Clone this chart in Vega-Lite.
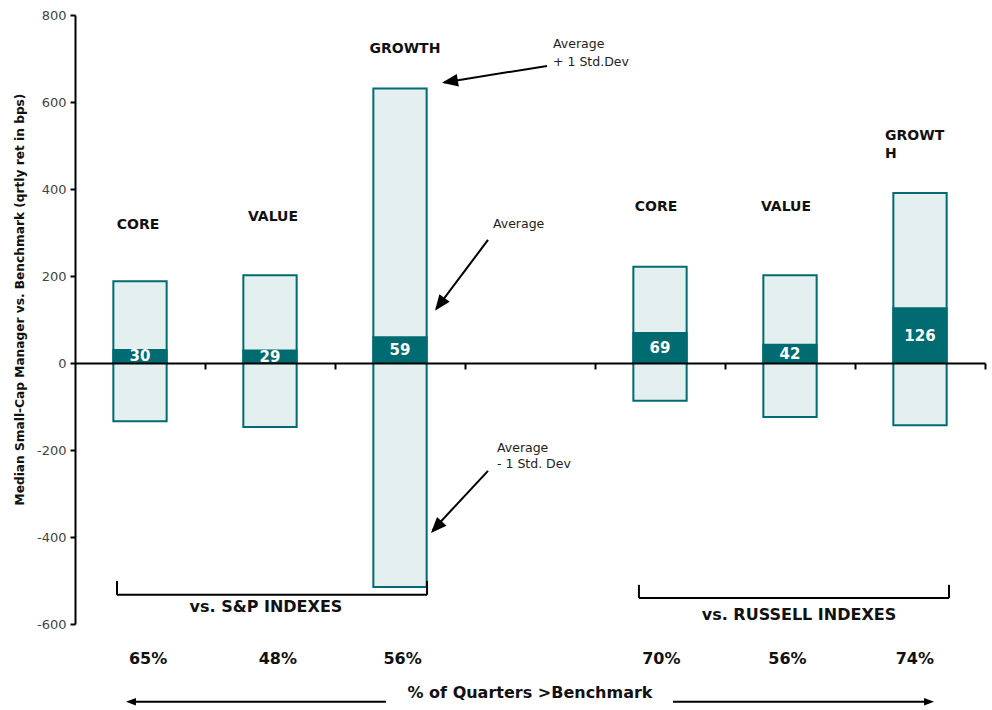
{
  "$schema": "https://vega.github.io/schema/vega-lite/v6.json",
  "width": 910,
  "height": 609,
  "autosize": {"type": "none"},
  "padding": {"left": 75, "top": 15, "right": 7, "bottom": 86},
  "background": "white",
  "config": {"view": {"stroke": null}, "font": "DejaVu Sans", "text": {"font": "DejaVu Sans"}},
  "datasets": {
    "bars": [
      {"cat": "S&P CORE", "lo": -134, "hi": 188, "avg": 30},
      {"cat": "S&P VALUE", "lo": -147, "hi": 202, "avg": 29},
      {"cat": "S&P GROWTH", "lo": -515, "hi": 631, "avg": 59},
      {"cat": "R CORE", "lo": -87, "hi": 221, "avg": 69},
      {"cat": "R VALUE", "lo": -124, "hi": 202, "avg": 42},
      {"cat": "R GROWTH", "lo": -143, "hi": 391, "avg": 126}
    ],
    "titles": [
      {"slot": 0.485, "val": 317, "label": "CORE"},
      {"slot": 1.523, "val": 336, "label": "VALUE"},
      {"slot": 2.538, "val": 722, "label": "GROWTH"},
      {"slot": 4.469, "val": 358, "label": "CORE"},
      {"slot": 5.469, "val": 358, "label": "VALUE"}
    ],
    "growt": [
      {"slot": 6.231, "val": 522, "label": "GROWT"},
      {"slot": 6.231, "val": 480, "label": "H"}
    ],
    "big": [
      {"slot": 1.469, "val": -561, "label": "vs. S&P INDEXES"},
      {"slot": 5.569, "val": -579, "label": "vs. RUSSELL INDEXES"},
      {"slot": 0.562, "val": -680, "label": "65%"},
      {"slot": 1.56, "val": -680, "label": "48%"},
      {"slot": 2.52, "val": -680, "label": "56%"},
      {"slot": 4.51, "val": -680, "label": "70%"},
      {"slot": 5.48, "val": -680, "label": "56%"},
      {"slot": 6.46, "val": -680, "label": "74%"},
      {"slot": 3.5, "val": -759, "label": "% of Quarters >Benchmark"}
    ],
    "notes": [
      {"slot": 3.677, "val": 733, "label": "Average"},
      {"slot": 3.677, "val": 692, "label": "+ 1 Std.Dev"},
      {"slot": 3.215, "val": 320, "label": "Average"},
      {"slot": 3.246, "val": -195, "label": "Average"},
      {"slot": 3.246, "val": -232, "label": "- 1 Std. Dev"}
    ],
    "segments": [
      {"slot": 0.323, "val": -501, "slot2": 0.323, "val2": -533},
      {"slot": 0.323, "val": -533, "slot2": 2.708, "val2": -533},
      {"slot": 2.708, "val": -501, "slot2": 2.708, "val2": -533},
      {"slot": 4.338, "val": -510, "slot2": 4.338, "val2": -540},
      {"slot": 4.338, "val": -540, "slot2": 6.723, "val2": -540},
      {"slot": 6.723, "val": -510, "slot2": 6.723, "val2": -540},
      {"slot": 3.631, "val": 683, "slot2": 2.84, "val2": 645},
      {"slot": 3.177, "val": 283, "slot2": 2.78, "val2": 125},
      {"slot": 3.177, "val": -248, "slot2": 2.75, "val2": -385},
      {"slot": 2.392, "val": -779, "slot2": 0.42, "val2": -779},
      {"slot": 4.6, "val": -779, "slot2": 6.58, "val2": -779}
    ]
  },
  "resolve": {"scale": {"x": "independent"}},
  "layer": [
    {
      "data": {"name": "bars"},
      "layer": [
        {
          "mark": {"type": "bar", "width": {"band": 0.41}, "fill": "#E4F0F0", "stroke": "#006B70", "strokeWidth": 2},
          "encoding": {
            "x": {
              "field": "cat", "type": "nominal",
              "scale": {"domain": ["S&P CORE", "S&P VALUE", "S&P GROWTH", "gap", "R CORE", "R VALUE", "R GROWTH"], "paddingInner": 0, "paddingOuter": 0},
              "axis": {"orient": "bottom", "offset": -261, "labels": false, "title": null, "ticks": true, "tickSize": 6, "tickWidth": 2, "tickColor": "black", "domainColor": "black", "domainWidth": 2, "bandPosition": 1, "grid": false, "zindex": 1}
            },
            "y": {
              "field": "lo", "type": "quantitative",
              "scale": {"domain": [-600, 800], "nice": false, "zero": false},
              "axis": {
                "values": [-600, -400, -200, 0, 200, 400, 600, 800],
                "format": "d",
                "labelExpr": "replace(datum.label, '\u2212', '-')",
                "title": "Median Small-Cap Manager vs. Benchmark (qrtly ret in bps)",
                "titleFontSize": 12.2, "titleFontWeight": "bold", "titleColor": "#111",
                "titleAngle": 270, "titleX": -56, "titleY": 284, "titleAlign": "center", "titleBaseline": "middle",
                "labelFontSize": 13, "labelColor": "#444", "labelPadding": 4,
                "tickSize": 5, "tickWidth": 2, "tickColor": "black",
                "domainColor": "black", "domainWidth": 2, "grid": false, "zindex": 1
              }
            },
            "y2": {"field": "hi"}
          }
        },
        {
          "mark": {"type": "bar", "width": {"band": 0.41}, "fill": "#006B70", "stroke": "#006B70", "strokeWidth": 2},
          "encoding": {
            "x": {"field": "cat", "type": "nominal"},
            "y": {"field": "avg", "type": "quantitative", "scale": {"domain": [-600, 800], "nice": false, "zero": false}},
            "y2": {"datum": 0}
          }
        },
        {
          "transform": [{"calculate": "datum.avg / 2", "as": "mid"}],
          "mark": {"type": "text", "color": "white", "fontWeight": "bold", "fontSize": 15, "baseline": "middle", "align": "center"},
          "encoding": {
            "x": {"field": "cat", "type": "nominal"},
            "y": {"field": "mid", "type": "quantitative", "scale": {"domain": [-600, 800], "nice": false, "zero": false}},
            "text": {"field": "avg", "type": "quantitative"}
          }
        }
      ]
    },
    {
      "layer": [
        {
          "data": {"name": "segments"},
          "mark": {"type": "rule", "color": "black", "strokeWidth": 2},
          "encoding": {
            "x": {"field": "slot", "type": "quantitative", "scale": {"domain": [0, 7], "nice": false, "zero": false}, "axis": null},
            "y": {"field": "val", "type": "quantitative", "scale": {"domain": [-600, 800], "nice": false, "zero": false}},
            "x2": {"field": "slot2"},
            "y2": {"field": "val2"}
          }
        },
        {
          "data": {"values": [{"slot": 2.823, "val": 644}]},
          "mark": {"type": "point", "shape": "M0,0L-0.8,2L0.8,2Z", "size": 256, "filled": true, "color": "black", "opacity": 1, "angle": 260.8},
          "encoding": {
            "x": {"field": "slot", "type": "quantitative", "axis": null},
            "y": {"field": "val", "type": "quantitative"}
          }
        },
        {
          "data": {"values": [{"slot": 2.769, "val": 120}]},
          "mark": {"type": "point", "shape": "M0,0L-0.8,2L0.8,2Z", "size": 256, "filled": true, "color": "black", "opacity": 1, "angle": 216.7},
          "encoding": {
            "x": {"field": "slot", "type": "quantitative", "axis": null},
            "y": {"field": "val", "type": "quantitative"}
          }
        },
        {
          "data": {"values": [{"slot": 2.738, "val": -391}]},
          "mark": {"type": "point", "shape": "M0,0L-0.8,2L0.8,2Z", "size": 256, "filled": true, "color": "black", "opacity": 1, "angle": 222.6},
          "encoding": {
            "x": {"field": "slot", "type": "quantitative", "axis": null},
            "y": {"field": "val", "type": "quantitative"}
          }
        },
        {
          "data": {"values": [{"slot": 0.392, "val": -779}]},
          "mark": {"type": "point", "shape": "M0,0L-0.75,2L0.75,2Z", "size": 100, "filled": true, "color": "black", "opacity": 1, "angle": 270},
          "encoding": {
            "x": {"field": "slot", "type": "quantitative", "axis": null},
            "y": {"field": "val", "type": "quantitative"}
          }
        },
        {
          "data": {"values": [{"slot": 6.608, "val": -779}]},
          "mark": {"type": "point", "shape": "M0,0L-0.75,2L0.75,2Z", "size": 100, "filled": true, "color": "black", "opacity": 1, "angle": 90},
          "encoding": {
            "x": {"field": "slot", "type": "quantitative", "axis": null},
            "y": {"field": "val", "type": "quantitative"}
          }
        },
        {
          "data": {"name": "titles"},
          "mark": {"type": "text", "fontWeight": "bold", "fontSize": 14, "color": "#111", "align": "center", "baseline": "middle"},
          "encoding": {
            "x": {"field": "slot", "type": "quantitative", "axis": null},
            "y": {"field": "val", "type": "quantitative"},
            "text": {"field": "label"}
          }
        },
        {
          "data": {"name": "growt"},
          "mark": {"type": "text", "fontWeight": "bold", "fontSize": 14, "color": "#111", "align": "left", "baseline": "middle"},
          "encoding": {
            "x": {"field": "slot", "type": "quantitative", "axis": null},
            "y": {"field": "val", "type": "quantitative"},
            "text": {"field": "label"}
          }
        },
        {
          "data": {"name": "big"},
          "mark": {"type": "text", "fontWeight": "bold", "fontSize": 16, "color": "#111", "align": "center", "baseline": "middle"},
          "encoding": {
            "x": {"field": "slot", "type": "quantitative", "axis": null},
            "y": {"field": "val", "type": "quantitative"},
            "text": {"field": "label"}
          }
        },
        {
          "data": {"name": "notes"},
          "mark": {"type": "text", "fontSize": 12.5, "color": "#222", "align": "left", "baseline": "middle"},
          "encoding": {
            "x": {"field": "slot", "type": "quantitative", "axis": null},
            "y": {"field": "val", "type": "quantitative"},
            "text": {"field": "label"}
          }
        }
      ]
    }
  ]
}
